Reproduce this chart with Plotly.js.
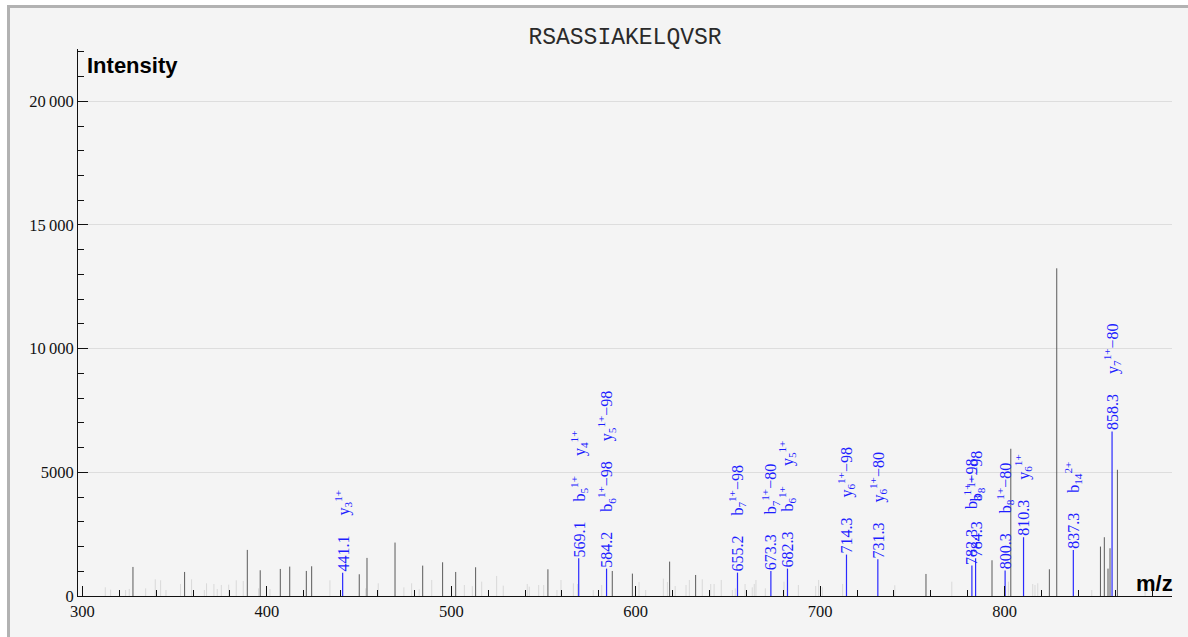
<!DOCTYPE html>
<html>
<head>
<meta charset="utf-8">
<script src="https://cdn.plot.ly/plotly-3.0.1.min.js"></script>
<style>
  html, body { margin: 0; padding: 0; background: #ffffff; }
  #frame { position: absolute; left: 7px; top: 5px; width: 1181px; height: 632px;
           background: #f4f4f4; border-left: 3px solid #b2b2b2; border-top: 3px solid #b2b2b2; box-sizing: border-box; }
  #chart { position: absolute; left: 0; top: 0; width: 1188px; height: 637px; }
</style>
</head>
<body>
<div id="frame"></div>
<div id="chart"></div>
<script>
// ---------- DATA ----------
const titleText = "RSASSIAKELQVSR";

// unannotated peaks, medium gray
const grayMz  = [327.4, 355.4, 389.4, 396.4, 407.3, 412.4, 421.4, 424.3, 450.1, 454.3, 469.5, 484.5, 495.3, 502.4, 513.2, 552.4, 587.3, 598.2, 618.4, 632.5, 757.4, 793.2, 803.4, 824.3, 828.3, 852.0, 854.1, 856.1, 857.2, 861.2];
const grayInt = [1175, 972, 1863, 1040, 1094, 1188, 1013, 1202, 878, 1540, 2160, 1228, 1363, 972, 1161, 1080, 1012, 905, 1390, 850, 891, 1444, 5953, 1080, 13248, 1998, 2376, 1107, 1930, 5103];

// low noise peaks, light gray
const lightMz  = [312.4, 315.3, 323.4, 325.4, 334.3, 339.5, 342.4, 345.3, 353.2, 359.2, 366.1, 367.3, 371.3, 373.1, 375.3, 379.3, 383.4, 387.2, 395.5, 401.7, 434.2, 453.6, 460.4, 474.3, 478.5, 482.6, 489.4, 507.1, 511.4, 516.5, 524.6, 528.2, 541.2, 542.3, 547.4, 550.1, 557.3, 559.5, 566.2, 568.5, 577.0, 581.6, 601.8, 605.4, 615.0, 617.2, 621.4, 627.3, 629.1, 636.1, 640.7, 642.5, 646.4, 652.4, 654.0, 659.3, 663.2, 664.3, 665.2, 670.3, 680.4, 688.2, 697.6, 699.2, 701.2, 712.2, 740.5, 771.4, 802.1, 815.3, 816.5, 818.0, 847.3, 876.2];
const lightInt = [351, 256, 243, 284, 310, 675, 635, 243, 486, 675, 243, 513, 486, 284, 446, 459, 635, 608, 310, 284, 635, 310, 513, 351, 513, 270, 648, 445, 400, 580, 810, 418, 486, 378, 445, 445, 243, 648, 513, 486, 243, 445, 567, 243, 702, 567, 405, 445, 648, 675, 486, 486, 648, 243, 310, 486, 351, 486, 648, 310, 580, 445, 405, 648, 351, 486, 432, 580, 580, 486, 445, 513, 243, 243];

// annotated fragment peaks (blue)
const ionMz  = [441.1, 569.1, 584.2, 655.2, 673.3, 682.3, 714.3, 731.3, 782.3, 784.3, 800.3, 810.3, 837.3, 858.3];
const ionInt = [940, 1525, 1107, 945, 1013, 1107, 1674, 1485, 1228, 1525, 1026, 2376, 1863, 6655];
const ionNames = [
  ["y<sub>3</sub><sup>1+</sup>"],
  ["b<sub>5</sub><sup>1+</sup>", "y<sub>4</sub><sup>1+</sup>"],
  ["b<sub>6</sub><sup>1+</sup>−98", "y<sub>5</sub><sup>1+</sup>−98"],
  ["b<sub>7</sub><sup>1+</sup>−98"],
  ["b<sub>7</sub><sup>1+</sup>−80"],
  ["b<sub>6</sub><sup>1+</sup>", "y<sub>5</sub><sup>1+</sup>"],
  ["y<sub>6</sub><sup>1+</sup>−98"],
  ["y<sub>6</sub><sup>1+</sup>−80"],
  ["b<sub>8</sub><sup>1+</sup>−98"],
  ["b<sub>8</sub><sup>1+</sup>−98"],
  ["b<sub>8</sub><sup>1+</sup>−80"],
  ["y<sub>6</sub><sup>1+</sup>"],
  ["b<sub>14</sub><sup>2+</sup>"],
  ["y<sub>7</sub><sup>1+</sup>−80"]
];

const xTickVals = [300, 400, 500, 600, 700, 800];
const yTickVals = [0, 5000, 10000, 15000, 20000];
const yTickText = ["0", "5000", "10\u2009000", "15\u2009000", "20\u2009000"];

// ---------- BUILD ----------
function sticks(mz, inten) {
  const x = [], y = [];
  for (let i = 0; i < mz.length; i++) {
    x.push(mz[i], mz[i], null);
    y.push(0, inten[i], null);
  }
  return {x, y};
}
const L = sticks(lightMz, lightInt);
const G = sticks(grayMz, grayInt);
const B = sticks(ionMz, ionInt);

const traces = [
  {type: 'scatter', mode: 'lines', x: L.x, y: L.y, line: {color: '#d9d9d9', width: 1}, hoverinfo: 'skip', showlegend: false},
  {type: 'scatter', mode: 'lines', x: G.x, y: G.y, line: {color: '#5a5a5a', width: 1}, hoverinfo: 'skip', showlegend: false},
  {type: 'scatter', mode: 'lines', x: B.x, y: B.y, line: {color: '#2a2aff', width: 1.2}, hoverinfo: 'skip', showlegend: false}
];

const gap1 = '\u00a0\u00a0\u00a0\u00a0\u00a0';
const annotations = ionMz.map((m, i) => ({
  x: m, y: ionInt[i], xref: 'x', yref: 'y',
  text: m.toFixed(1) + gap1 + ionNames[i].join(gap1),
  textangle: -90, showarrow: false, xanchor: 'center', yanchor: 'bottom',
  font: {family: 'Liberation Serif, serif', size: 16, color: '#1e1eff'},
  borderpad: 0
}));
annotations.push({
  xref: 'paper', yref: 'paper', x: 0.0065, y: (596 - 65) / 547, xanchor: 'left', yanchor: 'middle',
  text: '<b>Intensity</b>', showarrow: false,
  font: {family: 'Liberation Sans, Arial, sans-serif', size: 22, color: '#000'}
});
annotations.push({
  xref: 'paper', yref: 'paper', x: 1, y: (596 - 583) / 547, xanchor: 'right', yanchor: 'middle', xshift: 3,
  text: '<b>m/z</b>', showarrow: false,
  font: {family: 'Liberation Sans, Arial, sans-serif', size: 22, color: '#000'}
});

const layout = {
  width: 1188, height: 637,
  paper_bgcolor: 'rgba(0,0,0,0)', plot_bgcolor: 'rgba(0,0,0,0)',
  margin: {l: 78, r: 16, t: 49, b: 41, pad: 0},
  title: {text: titleText, x: 0.5, xref: 'paper', y: 1 - 36 / 637, yanchor: 'middle',
          font: {family: 'Liberation Mono, Courier New, monospace', size: 23, color: '#2a2a2a'}},
  xaxis: {
    range: [297.6, 890.8], showline: true, linecolor: '#111', linewidth: 1,
    showgrid: false, zeroline: false,
    tickmode: 'array', tickvals: xTickVals, ticktext: xTickVals.map(String),
    ticks: 'inside', ticklen: 10, tickwidth: 1, tickcolor: '#111',
    minor: {tickmode: 'linear', tick0: 300, dtick: 20, ticks: 'inside', ticklen: 6, tickwidth: 1, tickcolor: '#111', showgrid: false},
    tickfont: {family: 'Liberation Serif, serif', size: 16.5, color: '#111'}
  },
  yaxis: {
    range: [0, 22114], showline: true, linecolor: '#111', linewidth: 1,
    showgrid: true, gridcolor: '#dddddd', gridwidth: 1, zeroline: false,
    tickmode: 'array', tickvals: yTickVals, ticktext: yTickText,
    ticks: 'inside', ticklen: 10, tickwidth: 1, tickcolor: '#111',
    minor: {tickmode: 'linear', tick0: 0, dtick: 1000, ticks: 'inside', ticklen: 6, tickwidth: 1, tickcolor: '#111', showgrid: false},
    tickfont: {family: 'Liberation Serif, serif', size: 16.5, color: '#111'}
  },
  annotations: annotations,
  showlegend: false
};

Plotly.newPlot('chart', traces, layout, {displayModeBar: false, staticPlot: true});
</script>
</body>
</html>
